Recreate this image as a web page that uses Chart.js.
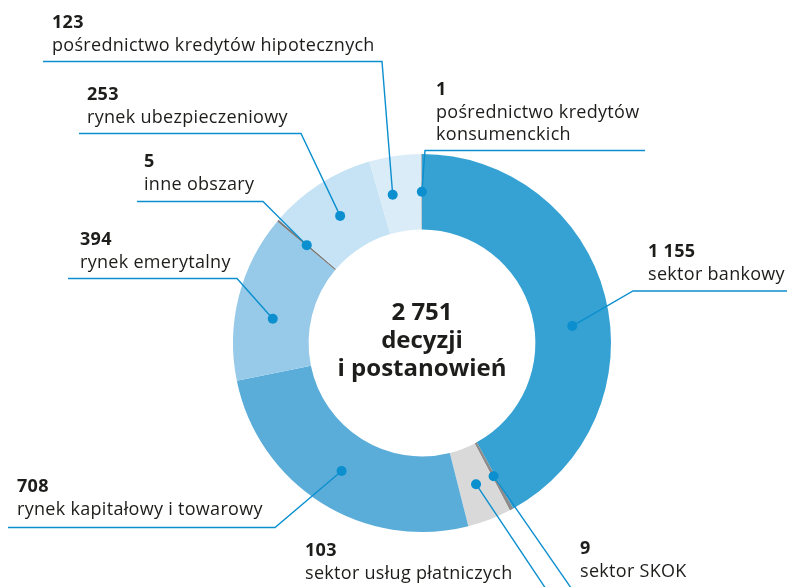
<!DOCTYPE html>
<html>
<head>
<meta charset="utf-8">
<script src="https://cdn.jsdelivr.net/npm/chart.js@4"></script>
<style>
  html, body { margin: 0; padding: 0; background: #fff; }
  #wrap { width: 787px; height: 587px; position: relative; }
</style>
</head>
<body>
<div id="wrap"><canvas id="chart"></canvas></div>
<script>
// categories, clockwise from 12 o'clock
const categories = [
    'sektor bankowy',
    'sektor SKOK',
    'sektor usług płatniczych',
    'rynek kapitałowy i towarowy',
    'rynek emerytalny',
    'inne obszary',
    'rynek ubezpieczeniowy',
    'pośrednictwo kredytów hipotecznych',
    'pośrednictwo kredytów konsumenckich'
];
const values = [1155, 9, 103, 708, 394, 5, 253, 123, 1];
const valueLabels = ['1 155', '9', '103', '708', '394', '5', '253', '123', '1'];
const totalLabel = ['2 751', 'decyzji', 'i postanowień'];

const colors = ['#36a1d3', '#8c8c8c', '#d9d9d9', '#5badd9', '#97cae8', '#7a7a7a', '#c5e3f4', '#daecf8', '#6e6e6e'];

// label layout: text lines, leader elbow, horizontal line end, dot angle tweak (deg)
const layout = [
    { lines: ['sektor bankowy'], tx: 648, ty: 252, elbow: [633, 291], end: 787, tweak: 8 },
    { lines: ['sektor SKOK'], tx: 580, ty: 549, elbow: [578, 598], end: null, tweak: 0 },
    { lines: ['sektor usług płatniczych'], tx: 305, ty: 551, elbow: [552, 598], end: null, tweak: 0 },
    { lines: ['rynek kapitałowy i towarowy'], tx: 17, ty: 487, elbow: [275, 527.5], end: 8, tweak: 0 },
    { lines: ['rynek emerytalny'], tx: 80, ty: 240, elbow: [237, 278.5], end: 68, tweak: -5 },
    { lines: ['inne obszary'], tx: 144, ty: 162, elbow: [263, 201.5], end: 137, tweak: 0 },
    { lines: ['rynek ubezpieczeniowy'], tx: 87, ty: 95, elbow: [301, 133.5], end: 79, tweak: 0 },
    { lines: ['pośrednictwo kredytów hipotecznych'], tx: 52, ty: 23, elbow: [382, 61.5], end: 43, tweak: -3 },
    { lines: ['pośrednictwo kredytów', 'konsumenckich'], tx: 436, ty: 90, elbow: [425, 150.5], end: 645, tweak: 0 }
];

const FONT = '"Open Sans", "Noto Sans", sans-serif';
const LINE_COLOR = '#0b8fcf';

const leaderPlugin = {
    id: 'leaders',
    afterDatasetsDraw(chart) {
        const ctx = chart.ctx;
        const arcs = chart.getDatasetMeta(0).data;
        ctx.save();
        arcs.forEach((arc, i) => {
            const L = layout[i];
            const p = arc.getProps(['x', 'y', 'startAngle', 'endAngle', 'innerRadius', 'outerRadius'], true);
            const a = (p.startAngle + p.endAngle) / 2 + L.tweak * Math.PI / 180;
            const r = (p.innerRadius + p.outerRadius) / 2;
            const dx = p.x + Math.cos(a) * r;
            const dy = p.y + Math.sin(a) * r;

            ctx.strokeStyle = LINE_COLOR;
            ctx.lineWidth = 1.4;
            ctx.beginPath();
            ctx.moveTo(dx, dy);
            ctx.lineTo(L.elbow[0], L.elbow[1]);
            if (L.end !== null) ctx.lineTo(L.end, L.elbow[1]);
            ctx.stroke();

            ctx.fillStyle = LINE_COLOR;
            ctx.beginPath();
            ctx.arc(dx, dy, 5, 0, Math.PI * 2);
            ctx.fill();

            ctx.fillStyle = '#1d1d1b';
            ctx.textAlign = 'left';
            ctx.textBaseline = 'middle';
            ctx.letterSpacing = '0.3px';
            ctx.font = 'bold 18px ' + FONT;
            ctx.fillText(valueLabels[i], L.tx, L.ty);
            ctx.font = '18px ' + FONT;
            L.lines.forEach((t, k) => ctx.fillText(t, L.tx, L.ty + 22.5 * (k + 1)));
        });

        // total in the middle
        const c = arcs[0];
        ctx.textAlign = 'center';
        ctx.letterSpacing = '0px';
        ctx.font = 'bold 24px ' + FONT;
        totalLabel.forEach((t, k) => ctx.fillText(t, c.x, 313 + 28 * k));
        ctx.restore();
    }
};

new Chart(document.getElementById('chart'), {
    type: 'doughnut',
    data: {
        labels: categories,
        datasets: [{
            data: values,
            backgroundColor: colors,
            borderWidth: 0
        }]
    },
    options: {
        responsive: true,
        maintainAspectRatio: false,
        animation: false,
        cutout: '60%',
        layout: { padding: { left: 233, right: 176, top: 154, bottom: 55 } },
        plugins: {
            legend: { display: false },
            tooltip: { enabled: false }
        }
    },
    plugins: [leaderPlugin]
});
</script>
</body>
</html>
